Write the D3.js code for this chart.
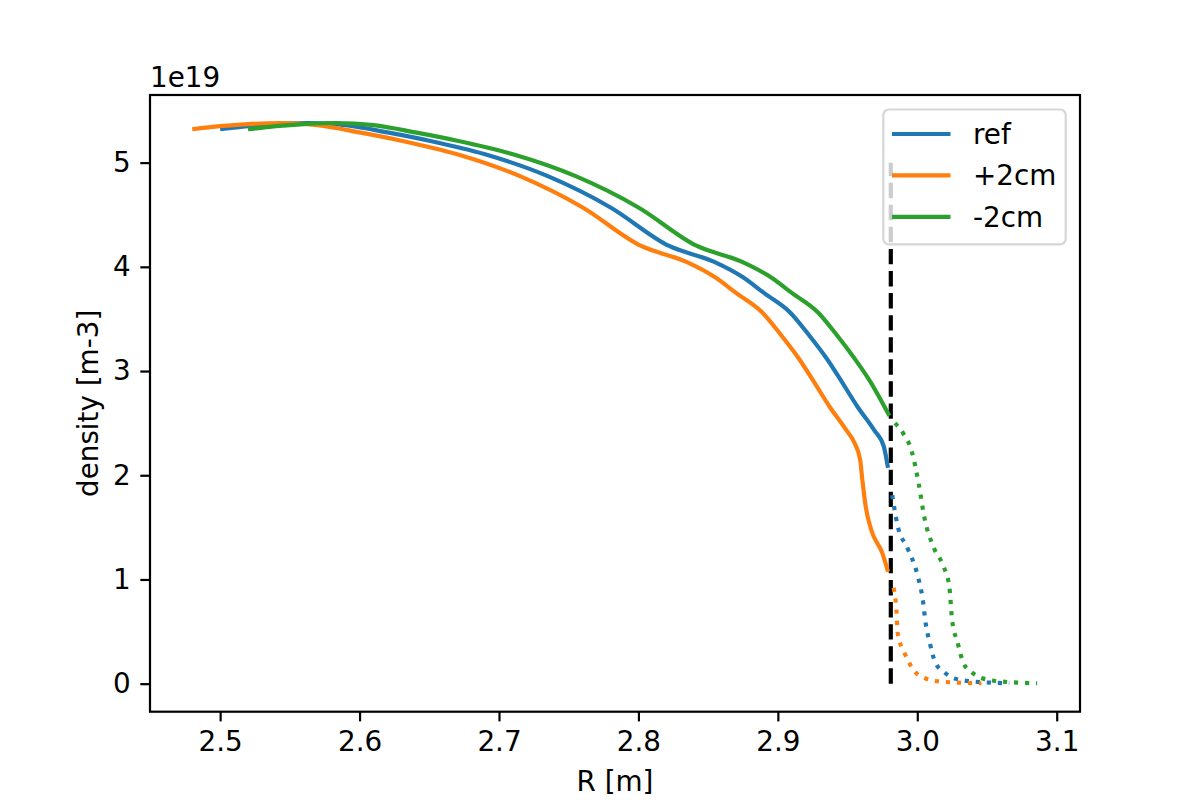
<!DOCTYPE html>
<html>
<head>
<meta charset="utf-8">
<script src="https://cdn.jsdelivr.net/npm/d3@7"></script>
<style>
  body { margin: 0; background: #fff; }
  text { font-family: "DejaVu Sans", sans-serif; fill: #000; }
</style>
</head>
<body>
<svg id="chart" width="1200" height="800"></svg>
<script>
// [R (m), density (1e19 m-3)]
// solid = inside the separatrix, dotted = outside
const refCore = [[2.500,5.32],[2.520,5.35],[2.540,5.37],[2.563,5.38],[2.590,5.36],[2.620,5.29],[2.650,5.21],[2.690,5.08],[2.735,4.87],[2.780,4.57],[2.822,4.20],[2.854,4.05],[2.875,3.90],[2.890,3.75],[2.909,3.56],[2.922,3.35],[2.935,3.12],[2.945,2.915],[2.957,2.66],[2.969,2.435],[2.976,2.275],[2.979,2.07]];
const refSol = [[2.982,1.81],[2.986,1.51],[2.993,1.30],[3.000,1.05],[3.004,0.80],[3.006,0.58],[3.009,0.39],[3.013,0.20],[3.019,0.115],[3.026,0.052],[3.041,0.02],[3.066,0.004]];

const plusCore = [[2.480,5.32],[2.500,5.35],[2.520,5.37],[2.543,5.38],[2.570,5.36],[2.600,5.29],[2.630,5.21],[2.670,5.08],[2.715,4.87],[2.760,4.57],[2.802,4.20],[2.834,4.05],[2.855,3.90],[2.870,3.75],[2.889,3.56],[2.902,3.35],[2.915,3.12],[2.925,2.915],[2.937,2.66],[2.949,2.435],[2.955,2.31],[2.959,2.15],[2.9606,1.955],[2.963,1.70],[2.967,1.475],[2.975,1.25],[2.979,1.075]];
const plusSol = [[2.983,0.92],[2.985,0.71],[2.986,0.48],[2.991,0.29],[2.999,0.106],[3.006,0.05],[3.013,0.026],[3.029,0.01],[3.046,0.004]];

const minusCore = [[2.520,5.32],[2.540,5.35],[2.560,5.37],[2.583,5.38],[2.610,5.36],[2.640,5.29],[2.670,5.21],[2.710,5.08],[2.755,4.87],[2.800,4.57],[2.842,4.20],[2.874,4.05],[2.895,3.90],[2.910,3.75],[2.929,3.56],[2.942,3.35],[2.955,3.12],[2.9655,2.915],[2.980,2.57]];
const minusSol = [[2.984,2.50],[2.990,2.40],[2.996,2.23],[3.001,1.92],[3.005,1.60],[3.012,1.30],[3.019,1.12],[3.023,0.93],[3.025,0.61],[3.029,0.39],[3.033,0.20],[3.039,0.11],[3.046,0.055],[3.061,0.02],[3.086,0.004]];

const seriesNames = ["ref", "+2cm", "-2cm"];
const seriesColors = ["#1f77b4", "#ff7f0e", "#2ca02c"];
const coreData = [refCore, plusCore, minusCore];
const solData = [refSol, plusSol, minusSol];

const sepR = 2.981;          // separatrix position
const sepRange = [0, 5];     // extent of the dashed marker
const xTicks = [2.5, 2.6, 2.7, 2.8, 2.9, 3.0, 3.1];
const yTicks = [0, 1, 2, 3, 4, 5];

const mLeft = 150, mRight = 1080, mTop = 95, mBottom = 711.7;
const fs = 27.8;  // 10pt @ 200dpi
const lw = 4.17;  // 1.5pt

const svg = d3.select("#chart");

const x = d3.scaleLinear().domain([2.4497, 3.1167]).range([mLeft, mRight]);
const y = d3.scaleLinear().domain([-0.269, 5.649]).range([mBottom, mTop]);

const line = d3.line().x(d => x(d[0])).y(d => y(d[1])).curve(d3.curveMonotoneX);

const plot = svg.append("g");

// dashed separatrix
plot.append("line")
    .attr("x1", x(sepR)).attr("x2", x(sepR))
    .attr("y1", y(sepRange[0])).attr("y2", y(sepRange[1]))
    .attr("stroke", "#000").attr("stroke-width", lw)
    .attr("stroke-dasharray", "15.4,6.67");

coreData.forEach((d, i) => {
    plot.append("path")
        .attr("d", line(d))
        .attr("fill", "none")
        .attr("stroke", seriesColors[i])
        .attr("stroke-width", lw)
        .attr("stroke-linejoin", "round");
});

solData.forEach((d, i) => {
    plot.append("path")
        .attr("d", line(d))
        .attr("fill", "none")
        .attr("stroke", seriesColors[i])
        .attr("stroke-width", lw)
        .attr("stroke-dasharray", "4.17,6.88");
});

// axes
const xAxis = svg.append("g")
    .attr("transform", `translate(0,${mBottom})`)
    .call(d3.axisBottom(x).tickValues(xTicks).tickFormat(d3.format(".1f"))
        .tickSize(9.7).tickPadding(9.7).tickSizeOuter(0));
const yAxis = svg.append("g")
    .attr("transform", `translate(${mLeft},0)`)
    .call(d3.axisLeft(y).tickValues(yTicks).tickFormat(d3.format("d"))
        .tickSize(9.7).tickPadding(9.7).tickSizeOuter(0));

[xAxis, yAxis].forEach(a => {
    a.select(".domain").remove();
    a.selectAll(".tick line").attr("stroke", "#000").attr("stroke-width", 2.2);
    a.selectAll(".tick text")
        .style("font-family", "'DejaVu Sans', sans-serif")
        .style("font-size", fs + "px");
});

// frame
svg.append("rect")
    .attr("x", mLeft).attr("y", mTop)
    .attr("width", mRight - mLeft).attr("height", mBottom - mTop)
    .attr("fill", "none").attr("stroke", "#000").attr("stroke-width", 2.2);

// labels
svg.append("text")
    .attr("x", (mLeft + mRight) / 2).attr("y", 791)
    .attr("text-anchor", "middle")
    .style("font-size", fs + "px")
    .text("R [m]");

svg.append("text")
    .attr("transform", `translate(88,${(mTop + mBottom) / 2}) rotate(-90)`)
    .attr("text-anchor", "middle")
    .attr("dy", "0.35em")
    .style("font-size", fs + "px")
    .text("density [m-3]");

svg.append("text")
    .attr("x", 150).attr("y", 87)
    .style("font-size", fs + "px")
    .text("1e19");

// legend
const legend = svg.append("g");
legend.append("rect")
    .attr("x", 883.3).attr("y", 109.5)
    .attr("width", 1065.7 - 883.3).attr("height", 244.3 - 109.5)
    .attr("rx", 5.5)
    .attr("fill", "#fff").attr("fill-opacity", 0.8)
    .attr("stroke", "#ccc").attr("stroke-opacity", 0.8).attr("stroke-width", 2.2);

seriesNames.forEach((name, i) => {
    const ly = 134 + i * 41.4;
    legend.append("line")
        .attr("x1", 892).attr("x2", 950.5)
        .attr("y1", ly).attr("y2", ly)
        .attr("stroke", seriesColors[i]).attr("stroke-width", lw);
    legend.append("text")
        .attr("x", 973).attr("y", ly)
        .attr("dy", "0.36em")
        .style("font-size", fs + "px")
        .text(name);
});
</script>
</body>
</html>
